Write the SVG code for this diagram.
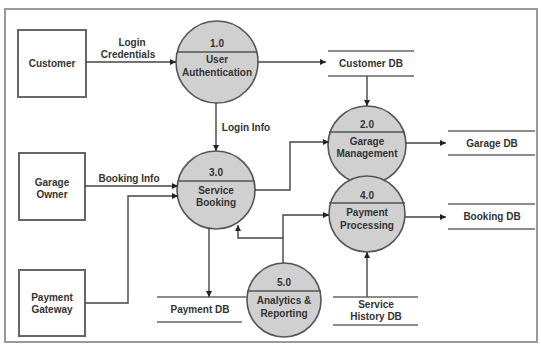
<svg xmlns="http://www.w3.org/2000/svg" width="541" height="345" viewBox="0 0 541 345">
<defs>
<marker id="arr" viewBox="0 0 10 10" refX="10" refY="5" markerWidth="6" markerHeight="6" orient="auto" markerUnits="userSpaceOnUse">
<path d="M0,0 L10,5 L0,10 z" fill="#222"/>
</marker>
<style>
.ent{fill:#fff;stroke:#666;stroke-width:2}
.proc{fill:#d0d0d0;stroke:#555;stroke-width:1.6}
.div{stroke:#555;stroke-width:1.4}
.store{stroke:#666;stroke-width:1.6}
.t{font-family:"Liberation Sans",Arial,sans-serif;font-weight:bold;font-size:10px;fill:#333;text-anchor:middle}
.c{fill:none;stroke:#444;stroke-width:1.4}
</style>
</defs>
<rect x="0" y="0" width="541" height="345" fill="#fff"/>
<rect x="5" y="9" width="532" height="333" fill="none" stroke="#999" stroke-width="2"/>

<g id="customer">
<rect class="ent" x="18" y="30" width="68" height="67"/>
<text class="t" x="52" y="67">Customer</text>
</g>
<g id="garage-owner">
<rect class="ent" x="19" y="153" width="66" height="67"/>
<text class="t" x="52" y="186">Garage</text>
<text class="t" x="52" y="198">Owner</text>
</g>
<g id="payment-gateway">
<rect class="ent" x="19" y="270" width="66" height="66"/>
<text class="t" x="52" y="301">Payment</text>
<text class="t" x="52" y="313">Gateway</text>
</g>

<g id="p1">
<circle class="proc" cx="217" cy="62" r="41"/>
<line class="div" x1="177" y1="52" x2="257" y2="52"/>
<text class="t" x="217" y="47">1.0</text>
<text class="t" x="217" y="63">User</text>
<text class="t" x="217" y="76">Authentication</text>
</g>
<g id="p2">
<circle class="proc" cx="367" cy="145" r="39"/>
<line class="div" x1="329" y1="132" x2="405" y2="132"/>
<text class="t" x="367" y="128">2.0</text>
<text class="t" x="367" y="145">Garage</text>
<text class="t" x="367" y="157">Management</text>
</g>
<g id="p3">
<circle class="proc" cx="216" cy="190" r="39"/>
<line class="div" x1="178" y1="181" x2="254" y2="181"/>
<text class="t" x="216" y="176">3.0</text>
<text class="t" x="216" y="194">Service</text>
<text class="t" x="216" y="206">Booking</text>
</g>
<g id="p4">
<circle class="proc" cx="367" cy="214" r="38"/>
<line class="div" x1="329" y1="203" x2="405" y2="203"/>
<text class="t" x="367" y="199">4.0</text>
<text class="t" x="367" y="216">Payment</text>
<text class="t" x="367" y="229">Processing</text>
</g>
<g id="p5">
<circle class="proc" cx="284" cy="300" r="37"/>
<line class="div" x1="247" y1="291" x2="321" y2="291"/>
<text class="t" x="284" y="286">5.0</text>
<text class="t" x="284" y="304">Analytics &amp;</text>
<text class="t" x="284" y="317">Reporting</text>
</g>

<g id="customer-db">
<line class="store" x1="328" y1="51" x2="414" y2="51"/>
<line class="store" x1="328" y1="76" x2="414" y2="76"/>
<text class="t" x="371" y="67">Customer DB</text>
</g>
<g id="garage-db">
<line class="store" x1="448" y1="131" x2="535" y2="131"/>
<line class="store" x1="448" y1="155" x2="535" y2="155"/>
<text class="t" x="492" y="147">Garage DB</text>
</g>
<g id="booking-db">
<line class="store" x1="448" y1="204" x2="535" y2="204"/>
<line class="store" x1="448" y1="229" x2="535" y2="229"/>
<text class="t" x="492" y="220">Booking DB</text>
</g>
<g id="service-history-db">
<line class="store" x1="333" y1="297" x2="418" y2="297"/>
<line class="store" x1="333" y1="325" x2="418" y2="325"/>
<text class="t" x="376" y="308">Service</text>
<text class="t" x="376" y="320">History DB</text>
</g>
<g id="payment-db">
<line class="store" x1="157" y1="297" x2="247" y2="297"/>
<line class="store" x1="157" y1="322" x2="242" y2="322"/>
<text class="t" x="200" y="313">Payment DB</text>
</g>

<g id="connectors">
<path class="c" d="M86,62 H176" marker-end="url(#arr)"/>
<text class="t" x="132" y="46">Login</text>
<text class="t" x="128" y="58">Credentials</text>
<path class="c" d="M258,62 H326" marker-end="url(#arr)"/>
<path class="c" d="M216,103 V151" marker-end="url(#arr)"/>
<text class="t" x="246" y="131">Login Info</text>
<path class="c" d="M367,76 V106" marker-end="url(#arr)"/>
<path class="c" d="M406,143 H446" marker-end="url(#arr)"/>
<path class="c" d="M85,186 H178" marker-end="url(#arr)"/>
<text class="t" x="129" y="182">Booking Info</text>
<path class="c" d="M85,303 H128 V196 H178" marker-end="url(#arr)"/>
<path class="c" d="M255,190 H290 V142 H329" marker-end="url(#arr)"/>
<path class="c" d="M209,228 V297" marker-end="url(#arr)"/>
<path class="c" d="M283,263 V215 H329" marker-end="url(#arr)"/>
<path class="c" d="M283,238 H238 V225" marker-end="url(#arr)"/>
<path class="c" d="M405,217 H446" marker-end="url(#arr)"/>
<path class="c" d="M367,297 V252" marker-end="url(#arr)"/>
</g>
</svg>
